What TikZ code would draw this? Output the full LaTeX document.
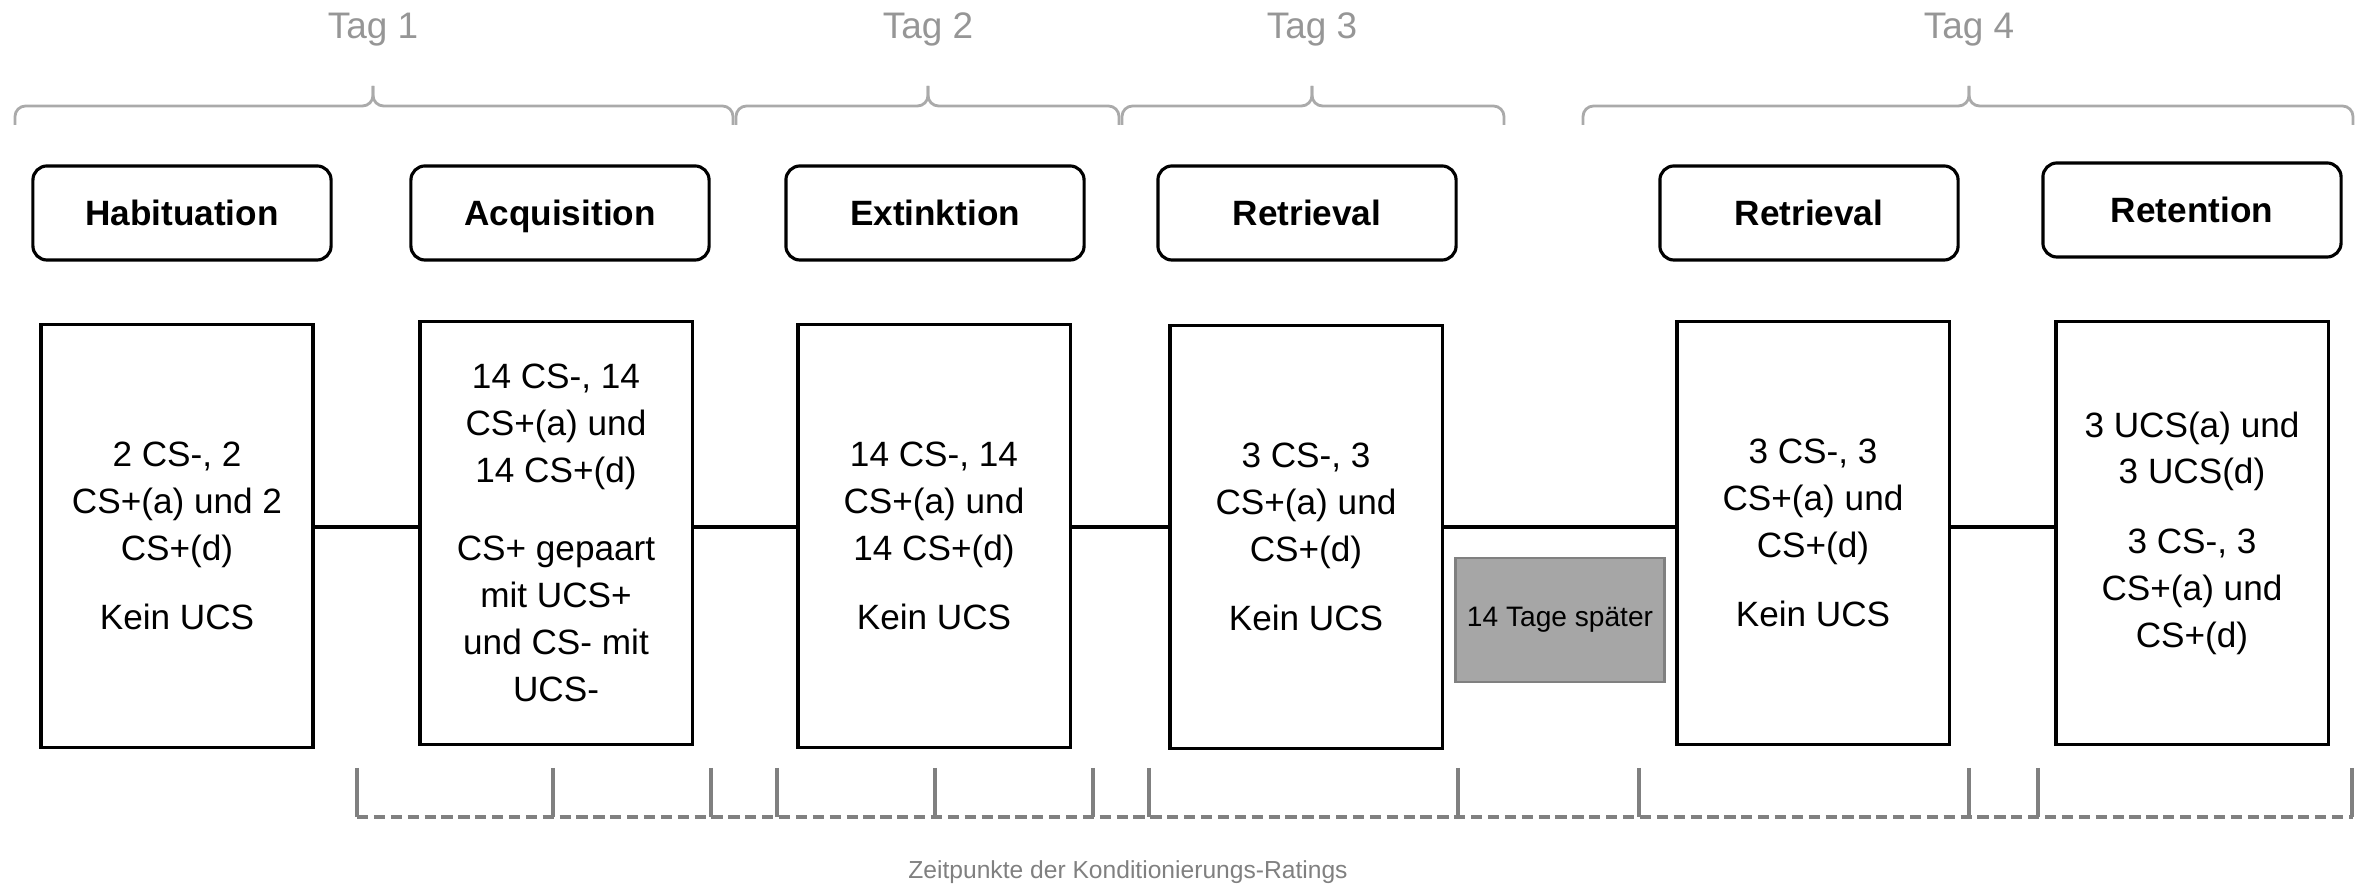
\documentclass[tikz,border=0pt]{standalone}
\usepackage{fontspec}
\setmainfont{Liberation Sans}
\definecolor{bracegray}{RGB}{170,170,170}
\definecolor{taggray}{RGB}{150,150,150}
\definecolor{linegray}{RGB}{128,128,128}
\definecolor{boxgray}{RGB}{166,166,166}
\begin{document}
\begin{tikzpicture}[x=0.01cm, y=-0.01cm]
    \tikzstyle{phase} = [draw, line width=0.9pt, rounded corners=4pt, minimum width=2.98cm, minimum height=0.94cm, text height=7.2pt, text depth=0pt, font=\fontsize{10}{12}\selectfont\bfseries]
    \tikzstyle{trial} = [draw, line width=0.9pt, minimum width=2.72cm, minimum height=4.22cm, align=center, font=\fontsize{10}{13.3}\selectfont]
    \tikzstyle{link} = [line width=0.9pt]
    \tikzstyle{day} = [draw=bracegray, line width=0.8pt, rounded corners=3pt]
    \tikzstyle{daylabel} = [text=taggray, anchor=base, font=\fontsize{10.5}{12}\selectfont]
    \tikzstyle{rating} = [draw=linegray, line width=1pt]
    \tikzstyle{pause} = [draw=linegray, fill=boxgray, line width=0.8pt, minimum width=2.06cm, minimum height=1.24cm, font=\fontsize{8}{10}\selectfont]
    \useasboundingbox (0,0) rectangle (2371,886);

    % Tage
    \foreach \xa/\xm/\xb/\n in {15/373/733/1, 736/928/1119/2, 1122/1312/1504/3, 1583/1969/2353/4} {
        \draw[day] (\xa,125) |- (\xm,106) -- (\xm,86);
        \draw[day] (\xb,125) |- (\xm,106) -- (\xm,86);
        \node[daylabel] (tag\n) at (\xm,39) {Tag \n};
    }

    % Phasen
    \node[phase] (habituation) at (182,213) {Habituation};
    \node[phase] (acquisition) at (560,213) {Acquisition};
    \node[phase] (extinktion) at (935,213) {Extinktion};
    \node[phase] (retrieval1) at (1307,213) {Retrieval};
    \node[phase] (retrieval2) at (1809,213) {Retrieval};
    \node[phase] (retention) at (2192,210) {Retention};

    % Durchgaenge
    \node[trial] (hab) at (177,536) {2 CS-, 2\\CS+(a) und 2\\CS+(d)\\[6.5pt]Kein UCS};
    \node[trial] (acq) at (556,533) {14 CS-, 14\\CS+(a) und\\14 CS+(d)\\[9pt]CS+ gepaart\\mit UCS+\\und CS- mit\\UCS-};
    \node[trial] (ext) at (934,536) {14 CS-, 14\\CS+(a) und\\14 CS+(d)\\[6.5pt]Kein UCS};
    \node[trial] (ret1) at (1306,537) {3 CS-, 3\\CS+(a) und\\CS+(d)\\[6.5pt]Kein UCS};
    \node[trial] (ret2) at (1813,533) {3 CS-, 3\\CS+(a) und\\CS+(d)\\[6.5pt]Kein UCS};
    \node[trial] (rtn) at (2192,533) {3 UCS(a) und\\3 UCS(d)\\[6.5pt]3 CS-, 3\\CS+(a) und\\CS+(d)};

    \foreach \a/\b in {hab/acq, acq/ext, ext/ret1, ret1/ret2, ret2/rtn}
        \draw[link] (\a.east |- 0,527) -- (\b.west |- 0,527);

    \node[pause] (pause) at (1560,620) {14 Tage später};

    % Ratings
    \draw[rating, dash pattern=on 3.2pt off 1.6pt] (357,817) -- (2353,817);
    \foreach \x in {357,553,711,777,935,1093,1149,1458,1639,1969,2038,2352}
        \draw[rating] (\x,768) -- (\x,817);
    \node[text=linegray, font=\fontsize{7}{8}\selectfont] (ratings) at (1128,872) {Zeitpunkte der Konditionierungs-Ratings};
\end{tikzpicture}
\end{document}
